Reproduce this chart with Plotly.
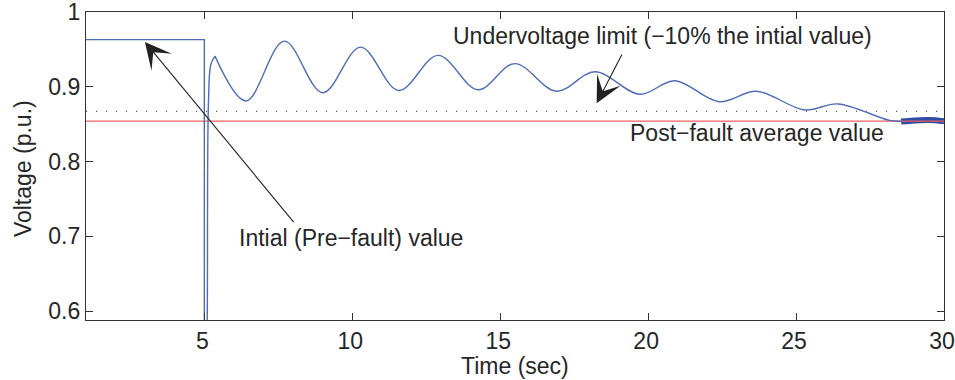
import plotly.graph_objects as go

# ---- data ----
pre_t = [1.0, 5.0, 5.0]
pre_v = [0.963, 0.963, 0.45]

fault_t = [5.06, 5.10, 5.14, 5.22, 5.36]
fault_v = [0.45, 0.60, 0.88, 0.93, 0.941]

osc_t = [5.36, 6.41, 7.70, 9.00, 10.28, 11.57, 12.90, 14.25, 15.49, 16.90,
         18.20, 19.72, 20.90, 22.40, 23.66, 25.29, 26.42, 28.16, 28.60]
osc_v = [0.941, 0.881, 0.961, 0.892, 0.953, 0.895, 0.942, 0.896, 0.931, 0.894,
         0.920, 0.890, 0.908, 0.880, 0.894, 0.869, 0.877, 0.855, 0.854]

end_t = [28.55, 29.0, 29.5, 30.0]
end_v = [0.8535, 0.855, 0.8555, 0.854]

post_fault_avg = 0.854
undervoltage_limit = 0.867

x_ticks = [5, 10, 15, 20, 25, 30]
y_ticks = [0.6, 0.7, 0.8, 0.9, 1.0]
y_tick_text = ["0.6", "0.7", "0.8", "0.9", "1"]

BLUE = "#4f6cb5"
RED = "#f06060"
AX = "#333333"
FONT = "Liberation Sans, Arial, sans-serif"
FS = 23

fig = go.Figure()

fig.add_trace(go.Scatter(x=[1, 30], y=[undervoltage_limit] * 2, mode="lines",
                         line=dict(color="#555555", width=1.2, dash="1px,9px"),
                         hoverinfo="skip"))
fig.add_trace(go.Scatter(x=end_t, y=end_v, mode="lines", line_shape="spline",
                         line=dict(color="#2d4ca4", width=6), hoverinfo="skip"))
fig.add_trace(go.Scatter(x=[1, 30], y=[post_fault_avg] * 2, mode="lines",
                         line=dict(color=RED, width=1.4), hoverinfo="skip"))
fig.add_trace(go.Scatter(x=pre_t, y=pre_v, mode="lines",
                         line=dict(color=BLUE, width=1.4), hoverinfo="skip"))
fig.add_trace(go.Scatter(x=fault_t, y=fault_v, mode="lines", line_shape="spline",
                         line=dict(color=BLUE, width=1.4), hoverinfo="skip"))
fig.add_trace(go.Scatter(x=osc_t, y=osc_v, mode="lines", line_shape="spline",
                         line=dict(color=BLUE, width=1.4), hoverinfo="skip"))

axis_common = dict(showline=True, linecolor=AX, linewidth=1.3, mirror="allticks",
                   ticks="inside", ticklen=7, tickcolor=AX, tickwidth=1.2,
                   showgrid=False, zeroline=False, automargin=False,
                   ticklabeloverflow="allow",
                   tickfont=dict(family=FONT, size=FS, color="#262626"))

fig.update_layout(
    width=955, height=380,
    margin=dict(l=86, r=11, t=12, b=60),
    paper_bgcolor="white", plot_bgcolor="white",
    showlegend=False,
    xaxis=dict(range=[1, 30], tickvals=x_ticks, ticklabelshift=-2, **axis_common),
    yaxis=dict(range=[0.588, 1.0], tickvals=y_ticks, ticktext=y_tick_text, **axis_common),
    font=dict(family=FONT, size=FS, color="#262626"),
)

ann_font = dict(family=FONT, size=FS, color="#262626")
fig.add_annotation(x=2.99, y=0.960, ax=8.06, ay=0.717, xref="x", yref="y",
                   axref="x", ayref="y", text="", showarrow=True,
                   arrowhead=3, arrowsize=4.0, arrowwidth=1.1, arrowcolor="#222222")
fig.add_annotation(x=18.26, y=0.878, ax=19.14, ay=0.945, xref="x", yref="y",
                   axref="x", ayref="y", text="", showarrow=True,
                   arrowhead=3, arrowsize=4.0, arrowwidth=1.1, arrowcolor="#222222")
fig.add_annotation(x=9.95, y=0.698, text="Intial (Pre\u2212fault) value",
                   showarrow=False, font=ann_font, xanchor="center", yanchor="middle")
fig.add_annotation(x=20.49, y=0.968, text="Undervoltage limit (\u221210% the intial value)",
                   showarrow=False, font=ann_font, xanchor="center", yanchor="middle")
fig.add_annotation(x=23.68, y=0.838, text="Post\u2212fault average value",
                   showarrow=False, font=ann_font, xanchor="center", yanchor="middle")
fig.add_annotation(x=0.5, y=-0.149, xref="paper", yref="paper", text="Time (sec)",
                   showarrow=False, font=ann_font, xanchor="center", yanchor="middle")
fig.add_annotation(x=-0.0734, y=0.49, xref="paper", yref="paper", text="Voltage (p.u.)",
                   showarrow=False, font=ann_font, xanchor="center", yanchor="middle",
                   textangle=-90)

fig.write_html("out.html")
